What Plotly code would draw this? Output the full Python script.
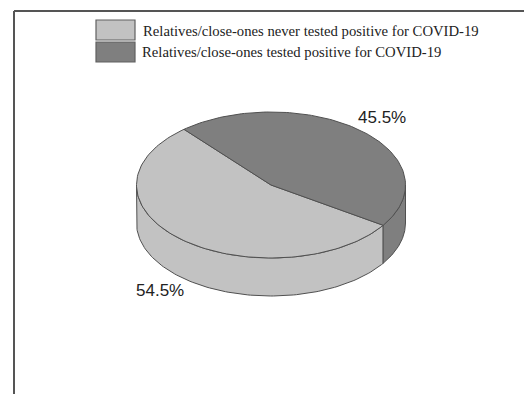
import numpy as np
import plotly.graph_objects as go

# Data
categories = [
    "Relatives/close-ones never tested positive for COVID-19",
    "Relatives/close-ones tested positive for COVID-19",
]
shares = [54.5, 45.5]  # percent
colors = ["#c2c2c2", "#7f7f7f"]

# Pie geometry (axis units = pixels)
W, H = 524, 394
cx, cy = 271.0, 185.0
rx, ry = 134.5, 73.0
depth = 38.0
start_angle = -33.5          # degrees, slices run clockwise from here
edge = "#505050"


def pt(a, dy=0.0):
    r = np.radians(a)
    return cx + rx * np.cos(r), cy - ry * np.sin(r) + dy


def arc(a0, a1, dy=0.0, n=120):
    a = np.linspace(a0, a1, n)
    x, y = pt(a, dy)
    return list(x), list(y)


# slice angle spans (clockwise)
spans = []
a = start_angle
for v in shares:
    sweep = 360.0 * v / sum(shares)
    spans.append((a, a - sweep))
    a -= sweep

fig = go.Figure()

# outer side walls: only the front half (angles between -180 and 0) is visible
for (a0, a1), col in zip(spans, colors):
    for shift in (0.0, -360.0, 360.0):
        hi = min(a0 + shift, 0.0)
        lo = max(a1 + shift, -180.0)
        if hi > lo:
            tx, ty = arc(hi, lo)
            bx, by = arc(lo, hi, dy=depth)
            fig.add_trace(go.Scatter(
                x=tx + bx + [tx[0]], y=ty + by + [ty[0]],
                mode="lines", fill="toself", fillcolor=col,
                line=dict(color=edge, width=1), hoverinfo="skip",
                showlegend=False))

# top faces
for (a0, a1), col in zip(spans, colors):
    ax_, ay_ = arc(a0, a1)
    fig.add_trace(go.Scatter(
        x=[cx] + ax_ + [cx], y=[cy] + ay_ + [cy],
        mode="lines", fill="toself", fillcolor=col,
        line=dict(color=edge, width=1), hoverinfo="skip",
        showlegend=False))

# percentage labels outside each slice
annotations = []
for (a0, a1), v in zip(spans, shares):
    mid = (a0 + a1) / 2.0
    r = np.radians(mid)
    lx = cx + 1.24 * rx * np.cos(r)
    ly = cy - 1.24 * ry * np.sin(r)
    if np.sin(r) < 0:
        ly += depth
    annotations.append(dict(
        x=lx, y=ly, xref="x", yref="y", text=f"{v}%", showarrow=False,
        font=dict(family="Liberation Sans, Arial", size=17, color="#222222"),
        xanchor="center", yanchor="middle"))

# legend block
shapes = []
legend_rows = [(20, 40, 141, 30.5), (42, 62, 139.5, 52)]
for (y0, y1, tx, ty), col, name in zip(legend_rows, colors, categories):
    shapes.append(dict(type="rect", xref="x", yref="y", x0=96, x1=135,
                       y0=y0, y1=y1, fillcolor=col,
                       line=dict(color="#606060", width=1.2), layer="above"))
    annotations.append(dict(
        x=tx, y=ty, xref="x", yref="y", text=name, showarrow=False,
        font=dict(family="Liberation Serif, Times New Roman", size=14.7,
                  color="#222222"),
        xanchor="left", yanchor="middle"))

# frame: top and left rules
shapes.append(dict(type="line", xref="x", yref="y", x0=14, x1=W, y0=11, y1=11,
                   line=dict(color="#555555", width=2), layer="above"))
shapes.append(dict(type="line", xref="x", yref="y", x0=14, x1=14, y0=11, y1=H,
                   line=dict(color="#555555", width=2), layer="above"))

fig.update_layout(
    width=W, height=H,
    margin=dict(l=0, r=0, t=0, b=0),
    paper_bgcolor="white", plot_bgcolor="white",
    xaxis=dict(range=[0, W], visible=False, fixedrange=True),
    yaxis=dict(range=[H, 0], visible=False, fixedrange=True),
    shapes=shapes, annotations=annotations,
    showlegend=False,
)

fig.write_html("out.html", config={"displayModeBar": False})
